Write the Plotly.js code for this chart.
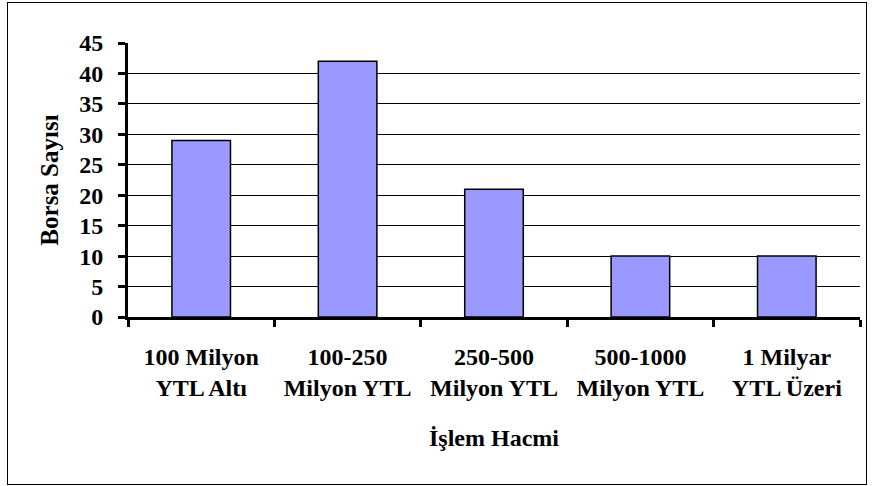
<!DOCTYPE html>
<html>
<head>
<meta charset="utf-8">
<script src="https://cdn.plot.ly/plotly-3.0.1.min.js"></script>
<style>
  html, body { margin: 0; padding: 0; background: #fff; }
  #wrap { position: relative; width: 872px; height: 486px; }
  #chart { position: absolute; left: 0; top: 0; width: 872px; height: 486px; }
  #frame { position: absolute; left: 7px; top: 2px; width: 858px; height: 481px; border: 1px solid #000; pointer-events: none; }
</style>
</head>
<body>
<div id="wrap">
  <div id="chart"></div>
  <div id="frame"></div>
</div>
<script>
const categories = ["100 Milyon<br>YTL Altı", "100-250<br>Milyon YTL", "250-500<br>Milyon YTL", "500-1000<br>Milyon YTL", "1 Milyar<br>YTL Üzeri"];
const borsaSayisi = [29, 42, 21, 10, 10];
const yTickVals = [0, 5, 10, 15, 20, 25, 30, 35, 40, 45];
const gridVals = [5, 10, 15, 20, 25, 30, 35, 40];
const xTitle = "İşlem Hacmi";
const yTitle = "Borsa Sayısı";

const fontFam = "Liberation Serif, Times New Roman, DejaVu Serif, serif";

const bars = {
  type: "bar",
  x: categories,
  y: borsaSayisi,
  marker: { color: "#9999FF", line: { color: "#000", width: 1.5 } },
  hoverinfo: "x+y"
};

// invisible companion trace so the grid-only overlay axis is drawn
const gridCarrier = {
  type: "scatter",
  mode: "markers",
  x: categories,
  y: borsaSayisi,
  yaxis: "y2",
  marker: { opacity: 0 },
  hoverinfo: "skip"
};

const bold = (size) => ({ family: fontFam, size: size, color: "#000", weight: "bold" });

const layout = {
  width: 872,
  height: 486,
  margin: { l: 128, r: 12, t: 42.5, b: 168.5 },
  paper_bgcolor: "#fff",
  plot_bgcolor: "#fff",
  bargap: 0.6,
  showlegend: false,
  font: { family: fontFam, color: "#000" },
  xaxis: {
    type: "category",
    showline: true, linecolor: "#000", linewidth: 3,
    ticks: "outside", tickson: "boundaries", ticklen: 7, tickwidth: 3, tickcolor: "#000",
    showgrid: false,
    tickfont: bold(24),
    ticklabelstandoff: 16,
    title: { text: xTitle, font: bold(24), standoff: 30 }
  },
  yaxis: {
    range: [0, 45],
    tickvals: yTickVals,
    showline: true, linecolor: "#000", linewidth: 3,
    ticks: "outside", ticklen: 7, tickwidth: 3, tickcolor: "#000",
    showgrid: false,
    zeroline: false,
    tickfont: bold(24),
    ticklabelstandoff: 10,
    title: { text: yTitle, font: bold(25), standoff: 14 }
  },
  yaxis2: {
    overlaying: "y",
    range: [0, 45],
    tickvals: gridVals,
    showticklabels: false,
    ticks: "",
    showline: false,
    showgrid: true, gridcolor: "#000", gridwidth: 1,
    zeroline: false
  }
};

Plotly.newPlot("chart", [bars, gridCarrier], layout, { displayModeBar: false, staticPlot: true });
</script>
</body>
</html>
